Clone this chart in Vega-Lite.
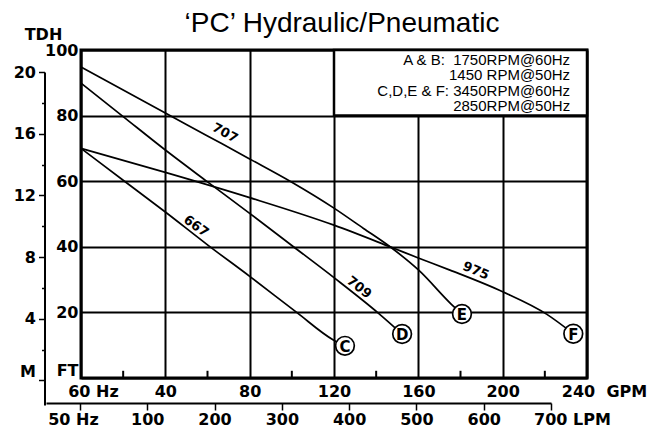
{
  "$schema": "https://vega.github.io/schema/vega-lite/v6.json",
  "width": 506,
  "height": 328,
  "autosize": "none",
  "padding": {"left": 81, "top": 50, "right": 75, "bottom": 61},
  "background": "white",
  "title": {
    "text": "‘PC’ Hydraulic/Pneumatic",
    "font": "Liberation Sans",
    "fontSize": 28,
    "fontWeight": "normal",
    "color": "black",
    "anchor": "middle",
    "frame": "group",
    "baseline": "alphabetic",
    "offset": -34,
    "dx": 8
  },
  "config": {
    "view": {"stroke": "black", "strokeWidth": 3},
    "font": "DejaVu Sans"
  },
  "datasets": {
    "curves": [
      {"curve": "E", "model": "707", "gpm": 0, "ft": 94.8},
      {"curve": "E", "model": "707", "gpm": 20, "ft": 87.8},
      {"curve": "E", "model": "707", "gpm": 40, "ft": 80.8},
      {"curve": "E", "model": "707", "gpm": 60, "ft": 73.8},
      {"curve": "E", "model": "707", "gpm": 80, "ft": 66.8},
      {"curve": "E", "model": "707", "gpm": 100, "ft": 59.7},
      {"curve": "E", "model": "707", "gpm": 120, "ft": 51.8},
      {"curve": "E", "model": "707", "gpm": 134, "ft": 45.6},
      {"curve": "E", "model": "707", "gpm": 146.6, "ft": 40},
      {"curve": "E", "model": "707", "gpm": 160.3, "ft": 32.8},
      {"curve": "E", "model": "707", "gpm": 175.8, "ft": 22.4},
      {"curve": "E", "model": "707", "gpm": 180.7, "ft": 19.5},
      {"curve": "D", "model": "709", "gpm": 0, "ft": 89.9},
      {"curve": "D", "model": "709", "gpm": 20, "ft": 79.7},
      {"curve": "D", "model": "709", "gpm": 40, "ft": 69.5},
      {"curve": "D", "model": "709", "gpm": 60, "ft": 59.8},
      {"curve": "D", "model": "709", "gpm": 80, "ft": 50.2},
      {"curve": "D", "model": "709", "gpm": 100, "ft": 40.4},
      {"curve": "D", "model": "709", "gpm": 120, "ft": 30.6},
      {"curve": "D", "model": "709", "gpm": 141, "ft": 19.8},
      {"curve": "D", "model": "709", "gpm": 152.3, "ft": 13.4},
      {"curve": "C", "model": "667", "gpm": 0, "ft": 70},
      {"curve": "C", "model": "667", "gpm": 20, "ft": 60.3},
      {"curve": "C", "model": "667", "gpm": 40, "ft": 50.6},
      {"curve": "C", "model": "667", "gpm": 60, "ft": 40.6},
      {"curve": "C", "model": "667", "gpm": 80, "ft": 31},
      {"curve": "C", "model": "667", "gpm": 102.3, "ft": 20},
      {"curve": "C", "model": "667", "gpm": 119.7, "ft": 11.6},
      {"curve": "C", "model": "667", "gpm": 125.2, "ft": 9.8},
      {"curve": "F", "model": "975", "gpm": 0, "ft": 70},
      {"curve": "F", "model": "975", "gpm": 40, "ft": 62.7},
      {"curve": "F", "model": "975", "gpm": 80, "ft": 55},
      {"curve": "F", "model": "975", "gpm": 120, "ft": 46.6},
      {"curve": "F", "model": "975", "gpm": 146.6, "ft": 40},
      {"curve": "F", "model": "975", "gpm": 160, "ft": 36.6},
      {"curve": "F", "model": "975", "gpm": 175, "ft": 32.9},
      {"curve": "F", "model": "975", "gpm": 200, "ft": 26.3},
      {"curve": "F", "model": "975", "gpm": 221, "ft": 19.4},
      {"curve": "F", "model": "975", "gpm": 233.5, "ft": 13.5}
    ],
    "labels": [
      {"model": "707", "gpm": 68.3, "ft": 74.7},
      {"model": "667", "gpm": 54.6, "ft": 46.3},
      {"model": "709", "gpm": 131.9, "ft": 27.6},
      {"model": "975", "gpm": 187.3, "ft": 32.7}
    ],
    "minorTicks": [
      {"gpm": 20}, {"gpm": 60}, {"gpm": 100}, {"gpm": 140}, {"gpm": 180}, {"gpm": 220}
    ]
  },
  "layer": [
    {
      "layer": [
        {
          "data": {"name": "curves"},
          "mark": {"type": "line", "interpolate": "monotone", "color": "black", "strokeWidth": 1.7},
          "encoding": {
            "x": {
              "field": "gpm", "type": "quantitative",
              "scale": {"domain": [0, 240], "nice": false, "zero": false},
              "axis": {
                "orient": "bottom",
                "values": [0, 40, 80, 120, 160, 200, 240],
                "domain": false,
                "grid": true, "gridColor": "black", "gridWidth": 2,
                "ticks": false,
                "labelExpr": "datum.value == 0 ? '60 Hz' : datum.value == 240 ? '240\u00a0 GPM' : datum.label",
                "labelOffset": {"condition": [{"test": "datum.value == 0", "value": 12}, {"test": "datum.value == 240", "value": 17}], "value": 0},
                "labelFont": "DejaVu Sans", "labelFontWeight": "bold", "labelFontSize": 16, "labelColor": "black",
                "labelPadding": 5, "labelFlush": false, "labelOverlap": false, "labelBound": false,
                "title": null
              }
            },
            "y": {
              "field": "ft", "type": "quantitative",
              "scale": {"domain": [0, 100], "nice": false, "zero": false},
              "axis": {
                "orient": "left",
                "values": [0, 20, 40, 60, 80, 100],
                "domain": false,
                "ticks": false,
                "grid": true, "gridColor": "black", "gridWidth": 2,
                "labelExpr": "datum.value == 0 ? 'FT' : datum.label",
                "labelOffset": {"condition": {"test": "datum.value == 0", "value": -8}, "value": 0},
                "labelFont": "DejaVu Sans", "labelFontWeight": "bold", "labelFontSize": 16, "labelColor": "black",
                "labelPadding": 3, "labelFlush": false, "labelOverlap": false, "labelBound": false,
                "title": "TDH", "titleAngle": 0, "titleX": -38, "titleY": -16,
                "titleAlign": "center", "titleBaseline": "middle",
                "titleFont": "DejaVu Sans", "titleFontWeight": "bold", "titleFontSize": 16, "titleColor": "black"
              }
            },
            "detail": {"field": "curve"}
          }
        },
        {
          "data": {"name": "minorTicks"},
          "mark": {"type": "rule", "color": "black", "strokeWidth": 2},
          "encoding": {
            "x": {"field": "gpm", "type": "quantitative"},
            "y": {"datum": 0, "type": "quantitative"},
            "y2": {"datum": 2.2}
          }
        },
        {
          "data": {"values": [{}]},
          "mark": {"type": "rect", "fill": "white", "stroke": "black", "strokeWidth": 2.5},
          "encoding": {
            "x": {"datum": 120, "type": "quantitative"},
            "x2": {"datum": 240},
            "y": {"datum": 80, "type": "quantitative"},
            "y2": {"datum": 100}
          }
        },
        {
          "data": {"values": [{}]},
          "mark": {"type": "text", "align": "right", "baseline": "top", "lineHeight": 15.3, "font": "Liberation Sans", "fontSize": 15, "color": "black"},
          "encoding": {
            "x": {"datum": 232, "type": "quantitative"},
            "y": {"datum": 99.1, "type": "quantitative"},
            "text": {"value": ["A & B:\u00a0 1750RPM@60Hz", "1450 RPM@50Hz", "C,D,E & F: 3450RPM@60Hz", "2850RPM@50Hz"]}
          }
        },
        {
          "data": {"name": "labels"},
          "transform": [{"filter": "datum.model == '707'"}],
          "mark": {"type": "text", "angle": 29, "font": "DejaVu Sans", "fontWeight": "bold", "fontSize": 13, "color": "black", "align": "center", "baseline": "middle"},
          "encoding": {"x": {"field": "gpm", "type": "quantitative"}, "y": {"field": "ft", "type": "quantitative"}, "text": {"field": "model"}}
        },
        {
          "data": {"name": "labels"},
          "transform": [{"filter": "datum.model == '667'"}],
          "mark": {"type": "text", "angle": 36, "font": "DejaVu Sans", "fontWeight": "bold", "fontSize": 13, "color": "black", "align": "center", "baseline": "middle"},
          "encoding": {"x": {"field": "gpm", "type": "quantitative"}, "y": {"field": "ft", "type": "quantitative"}, "text": {"field": "model"}}
        },
        {
          "data": {"name": "labels"},
          "transform": [{"filter": "datum.model == '709'"}],
          "mark": {"type": "text", "angle": 38, "font": "DejaVu Sans", "fontWeight": "bold", "fontSize": 13, "color": "black", "align": "center", "baseline": "middle"},
          "encoding": {"x": {"field": "gpm", "type": "quantitative"}, "y": {"field": "ft", "type": "quantitative"}, "text": {"field": "model"}}
        },
        {
          "data": {"name": "labels"},
          "transform": [{"filter": "datum.model == '975'"}],
          "mark": {"type": "text", "angle": 23, "font": "DejaVu Sans", "fontWeight": "bold", "fontSize": 13, "color": "black", "align": "center", "baseline": "middle"},
          "encoding": {"x": {"field": "gpm", "type": "quantitative"}, "y": {"field": "ft", "type": "quantitative"}, "text": {"field": "model"}}
        },
        {
          "data": {"name": "curves"},
          "transform": [
            {"joinaggregate": [{"op": "max", "field": "gpm", "as": "maxg"}], "groupby": ["curve"]},
            {"filter": "datum.gpm == datum.maxg"}
          ],
          "mark": {"type": "point", "shape": "circle", "size": 350, "filled": true, "fill": "white", "stroke": "black", "strokeWidth": 1.7, "opacity": 1},
          "encoding": {"x": {"field": "gpm", "type": "quantitative"}, "y": {"field": "ft", "type": "quantitative"}}
        },
        {
          "data": {"name": "curves"},
          "transform": [
            {"joinaggregate": [{"op": "max", "field": "gpm", "as": "maxg"}], "groupby": ["curve"]},
            {"filter": "datum.gpm == datum.maxg"}
          ],
          "mark": {"type": "text", "font": "DejaVu Sans", "fontWeight": "bold", "fontSize": 15, "color": "black", "align": "center", "baseline": "middle", "dy": 1},
          "encoding": {"x": {"field": "gpm", "type": "quantitative"}, "y": {"field": "ft", "type": "quantitative"}, "text": {"field": "curve"}}
        }
      ]
    },
    {
      "data": {"values": [{"m": 0}, {"m": 20}]},
      "mark": {"type": "point", "opacity": 0},
      "encoding": {
        "y": {
          "field": "m", "type": "quantitative",
          "scale": {"domain": [-1.6, 20], "range": [355, 22], "nice": false, "zero": false},
          "axis": {
            "orient": "left", "offset": 36.5,
            "values": [0, 2, 4, 6, 8, 10, 12, 14, 16, 18, 20],
            "domain": true, "domainColor": "black", "domainWidth": 2,
            "ticks": true, "tickColor": "black", "tickWidth": 1.5,
            "tickSize": {"condition": {"test": "datum.value % 4 == 0", "value": 6}, "value": 3},
            "grid": false,
            "labelExpr": "datum.value == 0 ? 'M' : datum.value % 4 == 0 ? datum.label : ''",
            "labelOffset": {"condition": {"test": "datum.value == 0", "value": -9}, "value": 0},
            "labelFont": "DejaVu Sans", "labelFontWeight": "bold", "labelFontSize": 16, "labelColor": "black",
            "labelPadding": 3, "labelFlush": false, "labelOverlap": false, "labelBound": false,
            "title": null
          }
        }
      }
    },
    {
      "data": {"values": [{"lpm": 0}, {"lpm": 700}]},
      "mark": {"type": "point", "opacity": 0},
      "encoding": {
        "x": {
          "field": "lpm", "type": "quantitative",
          "scale": {"domain": [-50.5, 700], "range": [-35, 470], "nice": false, "zero": false},
          "axis": {
            "orient": "bottom", "offset": 25,
            "values": [0, 100, 200, 300, 400, 500, 600, 700],
            "domain": true, "domainColor": "black", "domainWidth": 2,
            "ticks": true, "tickColor": "black", "tickWidth": 1.5, "tickSize": 7,
            "grid": false,
            "labelExpr": "datum.value == 0 ? '50 Hz' : datum.value == 700 ? '700 LPM' : datum.label",
            "labelOffset": {"condition": [{"test": "datum.value == 0", "value": -7}, {"test": "datum.value == 700", "value": 21}], "value": 0},
            "labelFont": "DejaVu Sans", "labelFontWeight": "bold", "labelFontSize": 16, "labelColor": "black",
            "labelPadding": 1, "labelFlush": false, "labelOverlap": false, "labelBound": false,
            "title": null
          }
        }
      }
    }
  ],
  "resolve": {"scale": {"x": "independent", "y": "independent"}, "axis": {"x": "independent", "y": "independent"}}
}
